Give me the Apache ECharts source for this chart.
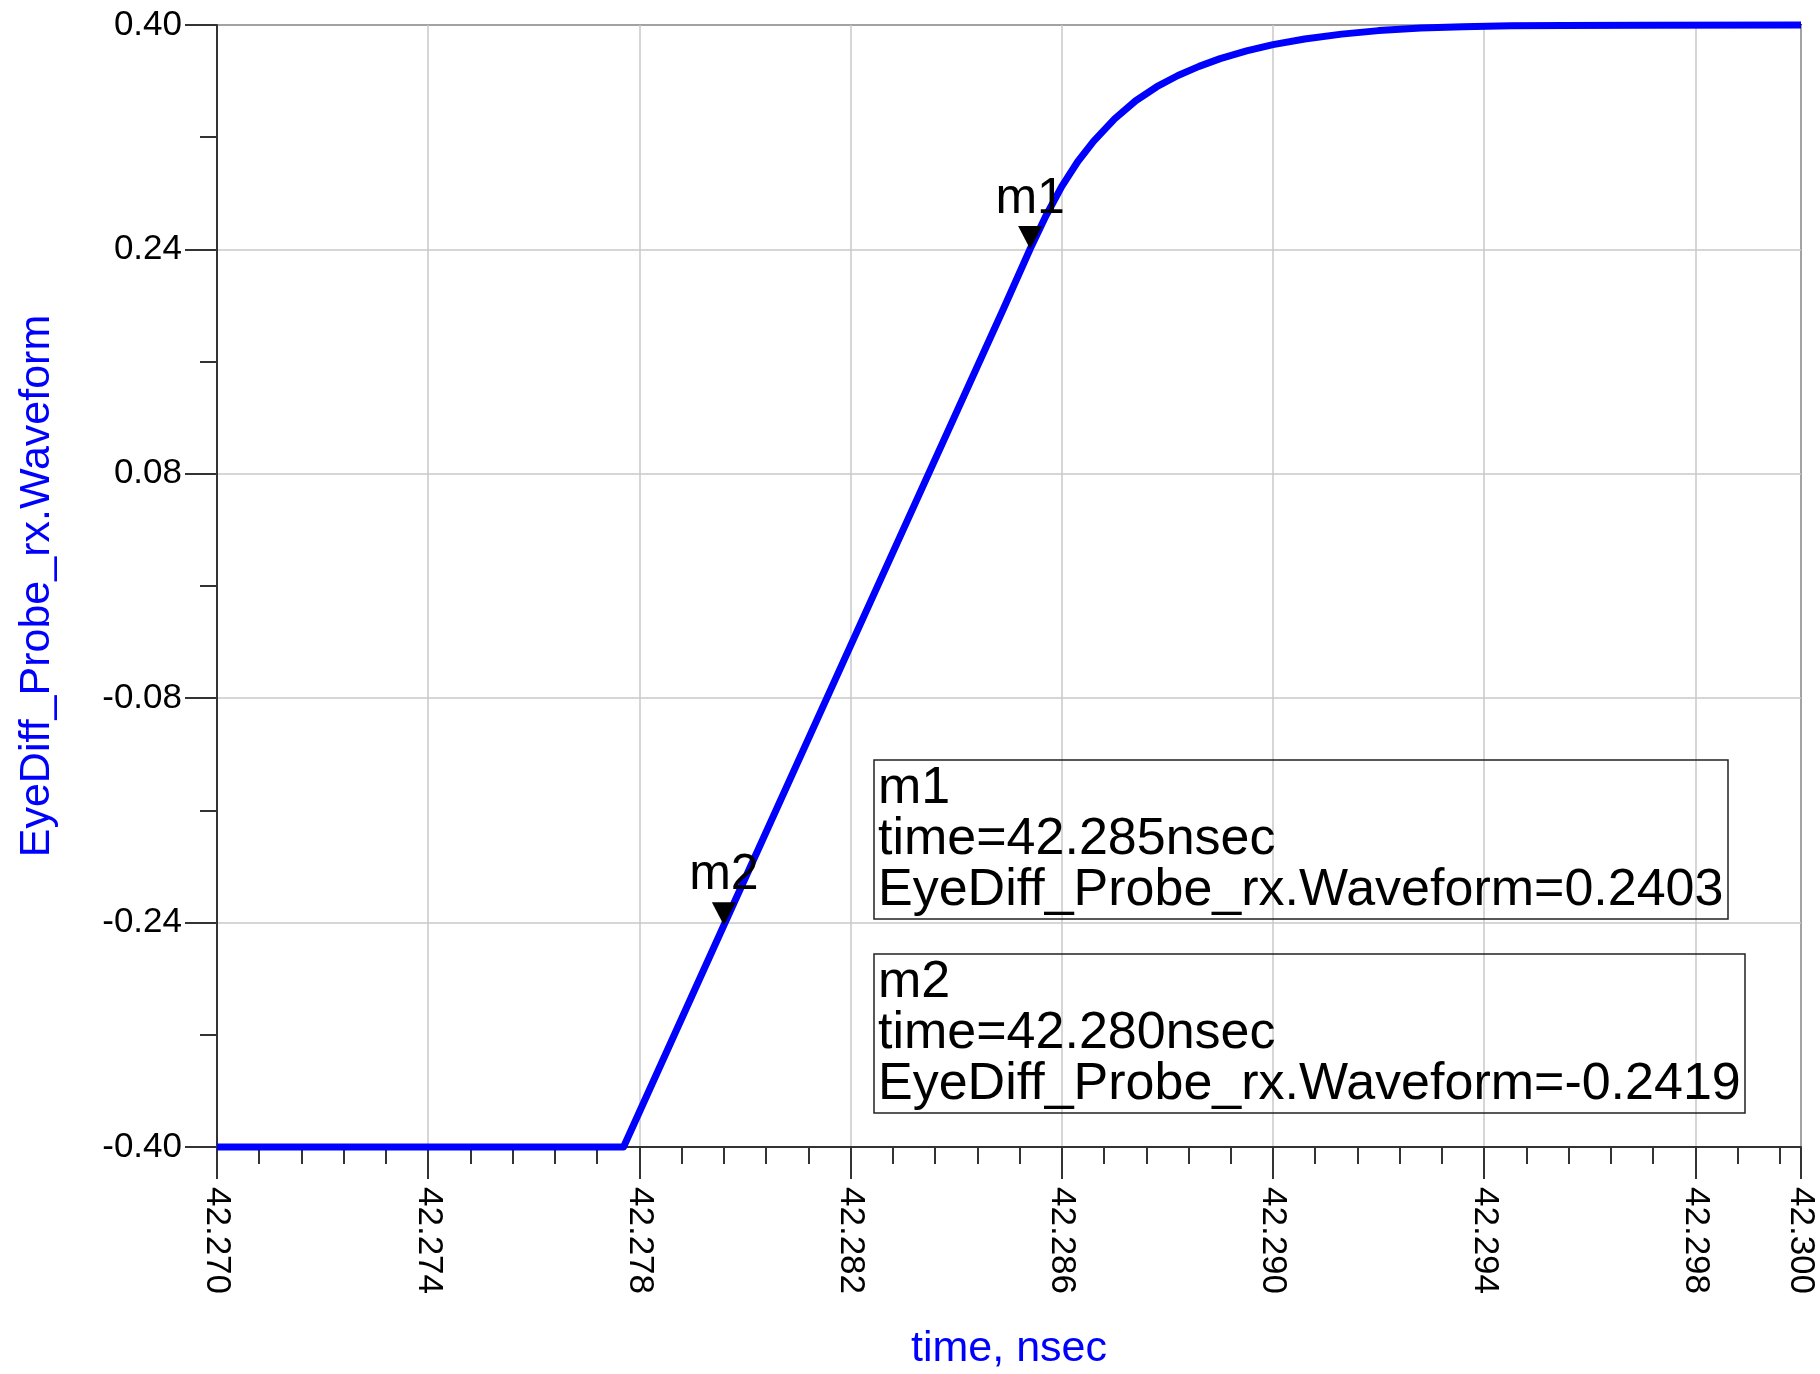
<!DOCTYPE html>
<html>
<head>
<meta charset="utf-8">
<title>EyeDiff_Probe_rx.Waveform</title>
<script src="https://cdn.jsdelivr.net/npm/echarts@6/dist/echarts.min.js"></script>
<style>
  html, body { margin: 0; padding: 0; background: #fff; }
  #main { width: 1820px; height: 1374px; }
</style>
</head>
<body>
<div id="main"></div>
<script>
// waveform samples (time in nsec)
var timeNs = [42.2700, 42.2777, 42.2796, 42.2825, 42.2849, 42.2854, 42.2857, 42.2860,
              42.2863, 42.2866, 42.2870, 42.2874, 42.2878, 42.2882, 42.2886, 42.2890,
              42.2895, 42.2900, 42.2906, 42.2913, 42.2920, 42.2928, 42.2936, 42.2945,
              42.2955, 42.2970, 42.3000];
var waveform = [-0.400, -0.400, -0.2419, -0.001, 0.198, 0.2403, 0.2640, 0.2850,
                0.3025, 0.3170, 0.3330, 0.3460, 0.3560, 0.3640, 0.3705, 0.3760,
                0.3815, 0.3860, 0.3900, 0.3935, 0.3960, 0.3978, 0.3988, 0.3994,
                0.3997, 0.3999, 0.4000];

// markers
var markerNames = ['m1', 'm2'];
var markerTime = [42.2854, 42.2796];
var markerTimeLabel = ['42.285', '42.280'];
var markerValue = ['0.2403', '-0.2419'];

// axis ticks
var xMajorTicks = [42.270, 42.274, 42.278, 42.282, 42.286, 42.290, 42.294, 42.298, 42.300];
var yMajorTicks = [-0.40, -0.24, -0.08, 0.08, 0.24, 0.40];
var yMinorTicks = [-0.32, -0.16, 0.00, 0.16, 0.32];

var xMinorTicks = [];
for (var k = 0; k <= 37; k++) {
    var v = Math.round((42.270 + k * 0.0008) * 1e5) / 1e5;
    if (xMajorTicks.indexOf(v) < 0 && v < 42.300) xMinorTicks.push(v);
}

var FONT = 'Liberation Sans, Arial, Helvetica, sans-serif';
var AXIS_COLOR = '#333333';

var lineData = timeNs.map(function (t, i) { return [t, waveform[i]]; });
var markerData = markerNames.map(function (n, i) {
    return { name: n, value: [markerTime[i], parseFloat(markerValue[i])] };
});

// marker readout boxes
var boxTops = [760, 954];
var readouts = markerNames.map(function (n, i) {
    return {
        text: n + '\ntime=' + markerTimeLabel[i] + 'nsec\nEyeDiff_Probe_rx.Waveform=' + markerValue[i],
        left: 874,
        top: boxTops[i],
        padding: [3, 5, 3, 4],
        borderColor: '#222',
        borderWidth: 1.5,
        backgroundColor: 'rgba(255,255,255,0)',
        textStyle: {
            fontFamily: FONT,
            fontSize: 52,
            fontWeight: 'normal',
            lineHeight: 51,
            color: '#000'
        }
    };
});

var chart = echarts.init(document.getElementById('main'));
chart.setOption({
    animation: false,
    backgroundColor: '#ffffff',
    title: readouts,
    grid: {
        left: 217, right: 19, top: 25, bottom: 227,
        show: true,
        borderColor: AXIS_COLOR,
        borderWidth: 2,
        outerBoundsMode: 'none'
    },
    xAxis: [{
        type: 'value',
        min: 42.270,
        max: 42.300,
        position: 'bottom',
        name: 'time, nsec',
        nameLocation: 'middle',
        nameGap: 181,
        nameTextStyle: { fontFamily: FONT, fontSize: 43, color: '#0000ff' },
        axisLine: { show: true, onZero: false, lineStyle: { color: AXIS_COLOR, width: 2 } },
        axisTick: { show: true, inside: false, length: 32, customValues: xMajorTicks,
                    lineStyle: { color: AXIS_COLOR, width: 2 } },
        axisLabel: {
            customValues: xMajorTicks,
            rotate: -90,
            margin: 40,
            fontFamily: FONT,
            fontSize: 35,
            color: '#000',
            formatter: function (v) { return v.toFixed(3); }
        },
        splitLine: { show: true, lineStyle: { color: '#c8c8c8', width: 1.5 } }
    }, {
        type: 'value',
        min: 42.270,
        max: 42.300,
        position: 'bottom',
        axisLine: { show: false, onZero: false },
        axisTick: { show: true, inside: false, length: 17, customValues: xMinorTicks,
                    lineStyle: { color: AXIS_COLOR, width: 2 } },
        axisLabel: { show: false },
        splitLine: { show: false }
    }],
    yAxis: [{
        type: 'value',
        min: -0.40,
        max: 0.40,
        position: 'left',
        name: 'EyeDiff_Probe_rx.Waveform',
        nameLocation: 'middle',
        nameGap: 158,
        nameTextStyle: { fontFamily: FONT, fontSize: 43, color: '#0000ff' },
        axisLine: { show: true, onZero: false, lineStyle: { color: AXIS_COLOR, width: 2 } },
        axisTick: { show: true, inside: false, length: 32, customValues: yMajorTicks,
                    lineStyle: { color: AXIS_COLOR, width: 2 } },
        axisLabel: {
            customValues: yMajorTicks,
            margin: 35,
            fontFamily: FONT,
            fontSize: 35,
            color: '#000',
            formatter: function (v) { return v.toFixed(2); }
        },
        splitLine: { show: true, lineStyle: { color: '#c8c8c8', width: 1.5 } }
    }, {
        type: 'value',
        min: -0.40,
        max: 0.40,
        position: 'left',
        axisLine: { show: false, onZero: false },
        axisTick: { show: true, inside: false, length: 17, customValues: yMinorTicks,
                    lineStyle: { color: AXIS_COLOR, width: 2 } },
        axisLabel: { show: false },
        splitLine: { show: false }
    }],
    series: [{
        name: 'EyeDiff_Probe_rx.Waveform',
        type: 'line',
        data: lineData,
        showSymbol: false,
        clip: false,
        smooth: false,
        lineStyle: { color: '#0000ff', width: 7, join: 'round' },
        z: 3
    }, {
        name: 'markers',
        type: 'scatter',
        data: markerData,
        symbol: 'path://M0,0 L2,0 L1,2 Z',
        symbolSize: [24, 23],
        symbolOffset: [0, -11.5],
        itemStyle: { color: '#000', opacity: 1 },
        clip: false,
        z: 4,
        label: {
            show: true,
            position: 'top',
            distance: 2,
            formatter: '{b}',
            fontFamily: FONT,
            fontSize: 50,
            color: '#000',
            opacity: 1
        }
    }]
});
</script>
</body>
</html>
